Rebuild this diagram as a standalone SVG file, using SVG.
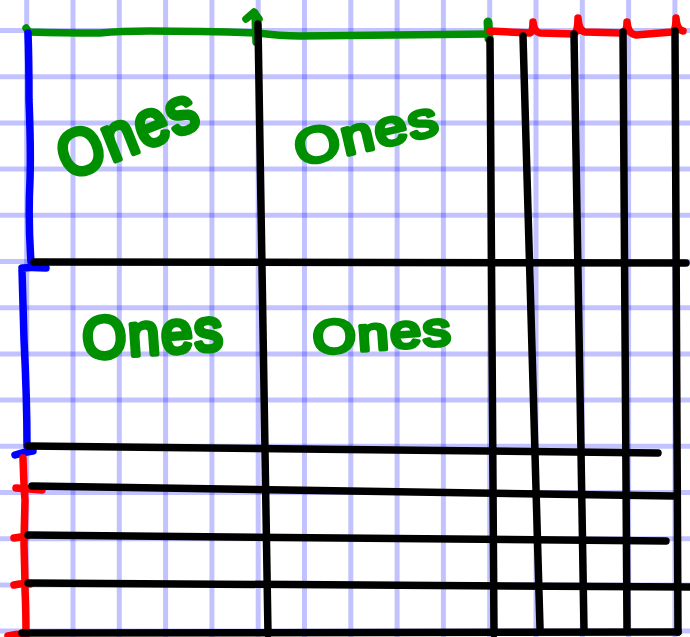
<svg xmlns="http://www.w3.org/2000/svg" width="690" height="637" viewBox="0 0 690 637">
<style>
.g{stroke:#0000ff;stroke-opacity:0.24;stroke-width:5;fill:none}
.k{stroke:#000;stroke-width:7.5;stroke-linecap:round;fill:none}
.gr{stroke:#008f00;stroke-width:7.5;stroke-linecap:round;stroke-linejoin:round;fill:none}
.bl{stroke:#0000ff;stroke-width:7.5;stroke-linecap:round;stroke-linejoin:round;fill:none}
.rd{stroke:#ff0000;stroke-width:7.5;stroke-linecap:round;stroke-linejoin:round;fill:none}
.t{font-family:"Liberation Sans",Arial,sans-serif;font-weight:normal;fill:#008f00;stroke:#008f00;stroke-width:5;stroke-linejoin:round;stroke-linecap:round;letter-spacing:2px}
</style>
<rect width="690" height="637" fill="#fff"/>
<g id="grid">
<path class="g" d="M26.7 0V637M73 0V637M119.3 0V637M165.6 0V637M211.9 0V637M258.2 0V637M304.5 0V637M350.8 0V637M397.1 0V637M443.4 0V637M489.7 0V637M536 0V637M582.3 0V637M628.6 0V637M674.9 0V637"/>
<path class="g" d="M0 30.5H690M0 76.7H690M0 122.9H690M0 169.1H690M0 215.3H690M0 261.5H690M0 307.7H690M0 353.9H690M0 400.1H690M0 446.3H690M0 492.5H690M0 538.7H690M0 584.9H690M0 631.1H690"/>
</g>
<g id="top-green">
<path class="gr" d="M26 28Q27 30 30 32Q60 33 100 33Q120 31 150 31Q200 31 258 33Q280 36 300 36Q400 35 488 34"/>
<path class="gr" d="M255 13L256 42M246 19L254 12L259 19"/>
<path class="gr" d="M488 22L489 39" style="stroke-width:9"/>
</g>
<g id="top-red">
<path class="rd" d="M490 31L530 33Q533 32 533 22Q534 32 540 33L574 34Q578 32 578 18Q579 31 585 32L622 33Q627 32 627 22Q628 34 636 35L672 32Q676 30 676 18Q677 30 683 31"/>
</g>
<g id="left-blue">
<path class="bl" d="M28 33Q29 60 29 100Q31 150 30 180Q28 220 31 262"/>
<path class="bl" d="M22 268Q30 267 46 268M22 270Q23 300 24 340Q27 400 27 446"/>
<path class="bl" d="M15 455Q24 452 33 451"/>
</g>
<g id="left-red">
<path class="rd" d="M23 458Q24 490 25 500Q24 540 24 545Q25 580 25 590Q26 610 26 636"/>
<path class="rd" d="M16 488Q30 489 42 490M14 538Q22 537 27 536M14 585Q22 583 30 584M8 636Q16 634 24 634"/>
</g>
<g id="connectors">
<path class="k" d="M258 24L268 634"/>
<path class="k" d="M490 40L494 634"/>
<path class="k" d="M523 36L540 628"/>
<path class="k" d="M574 34L584 630"/>
<path class="k" d="M623 32L627 628"/>
<path class="k" d="M675 31L678 632"/>
<path class="k" d="M34 262L686 263"/>
<path class="k" d="M28 446L658 453"/>
<path class="k" d="M32 486L673 496"/>
<path class="k" d="M28 535L666 541"/>
<path class="k" d="M28 583L690 587"/>
<path class="k" d="M22 633L678 632"/>
</g>
<g id="ones-1"><text class="t" font-size="58" transform="translate(68,180) rotate(-22) scale(1,1.1)">Ones</text></g>
<g id="ones-2"><text class="t" font-size="58" transform="translate(299,166) rotate(-13) scale(1,0.85)">Ones</text></g>
<g id="ones-3"><text class="t" font-size="56" transform="translate(84,359) rotate(-4) scale(1,1.05)">Ones</text></g>
<g id="ones-4"><text class="t" font-size="55" transform="translate(314,354) rotate(-4) scale(1,0.85)">Ones</text></g>
</svg>
